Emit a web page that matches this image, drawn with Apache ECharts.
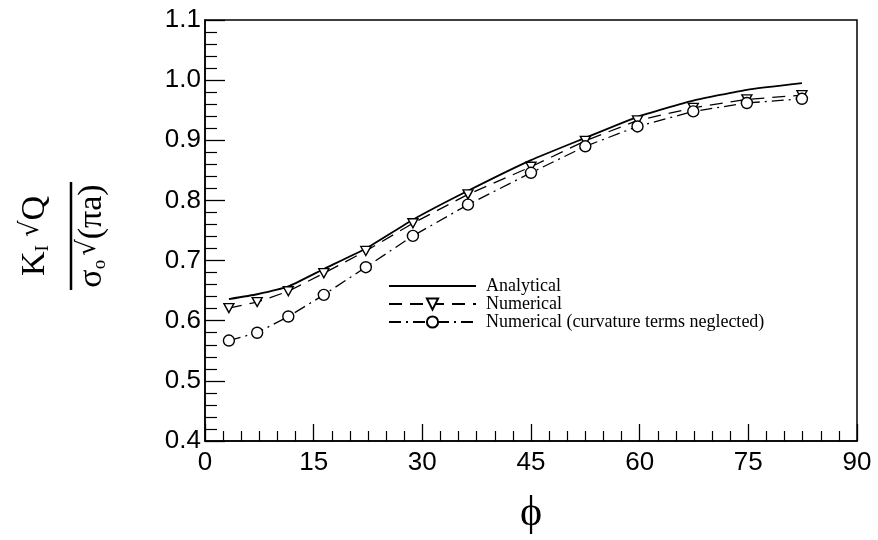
<!DOCTYPE html>
<html>
<head>
<meta charset="utf-8">
<script src="https://cdn.jsdelivr.net/npm/echarts@6/dist/echarts.min.js"></script>
<style>
html,body{margin:0;padding:0;background:#fff;}
#chart{width:878px;height:540px;}
</style>
</head>
<body>
<div id="chart"></div>
<script>
// Data
var phi = [3.3, 7.2, 11.5, 16.4, 22.2, 28.7, 36.3, 45.0, 52.5, 59.7, 67.4, 74.8, 82.4];
var analytical = [0.636, 0.644, 0.657, 0.686, 0.720, 0.768, 0.816, 0.867, 0.904, 0.939, 0.966, 0.984, 0.995];
var numerical = [0.621, 0.631, 0.649, 0.679, 0.716, 0.762, 0.810, 0.856, 0.899, 0.933, 0.954, 0.968, 0.975];
var neglected = [0.567, 0.580, 0.607, 0.643, 0.689, 0.741, 0.793, 0.846, 0.890, 0.923, 0.948, 0.962, 0.969];
var seriesNames = ['Analytical', 'Numerical', 'Numerical (curvature terms neglected)'];
var xTitle = 'ϕ';

function pairs(ys) { return phi.map(function (p, i) { return [p, ys[i]]; }); }

var chart = echarts.init(document.getElementById('chart'), null, {renderer: 'canvas'});
var axisFont = {fontFamily: 'Liberation Sans', fontSize: 26, color: '#000'};
var option = {
  animation: false,
  backgroundColor: '#fff',
  grid: {left: 205, right: 21, top: 20, bottom: 93, show: true, borderColor: '#000', borderWidth: 1.5, backgroundColor: 'transparent'},
  xAxis: {
    type: 'value', min: 0, max: 90, interval: 15,
    axisLine: {lineStyle: {color: '#000', width: 1.5}},
    axisTick: {inside: true, length: 17, lineStyle: {color: '#000', width: 1.3}},
    minorTick: {show: true, splitNumber: 6, length: 10, lineStyle: {color: '#000', width: 1.2}},
    splitLine: {show: false},
    axisLabel: Object.assign({margin: 9}, axisFont),
    name: xTitle, nameLocation: 'middle', nameGap: 52,
    nameTextStyle: {fontFamily: 'Liberation Serif', fontSize: 42, color: '#000'}
  },
  yAxis: {
    type: 'value', min: 0.4, max: 1.1, interval: 0.1,
    axisLine: {lineStyle: {color: '#000', width: 1.5}},
    axisTick: {inside: true, length: 20, lineStyle: {color: '#000', width: 1.3}},
    minorTick: {show: true, splitNumber: 5, length: 12, lineStyle: {color: '#000', width: 1.2}},
    splitLine: {show: false},
    axisLabel: Object.assign({margin: 4, formatter: function (v) { return v.toFixed(1); }}, axisFont)
  },
  legend: {
    left: 383, top: 272, orient: 'vertical', itemWidth: 87, itemHeight: 14, itemGap: 0,
    textStyle: {fontFamily: 'Liberation Serif', fontSize: 18, color: '#000', padding: [0, 0, 0, 5]},
    data: [{name: seriesNames[0], itemStyle: {opacity: 0}}, {name: seriesNames[1]}, {name: seriesNames[2]}]
  },
  series: [
    {
      name: seriesNames[0], type: 'line', data: pairs(analytical), smooth: 0.15,
      showSymbol: false, symbol: 'none',
      lineStyle: {color: '#000', width: 1.8, type: 'solid'}, itemStyle: {color: '#000'}
    },
    {
      name: seriesNames[1], type: 'line', data: pairs(numerical),
      symbol: 'triangle', symbolRotate: 180, symbolSize: [10, 9],
      lineStyle: {color: '#000', width: 1.3, type: [13, 8]},
      itemStyle: {color: '#fff', borderColor: '#000', borderWidth: 1.4}
    },
    {
      name: seriesNames[2], type: 'line', data: pairs(neglected),
      symbol: 'circle', symbolSize: 11,
      lineStyle: {color: '#000', width: 1.3, type: [12, 5, 2, 5]},
      itemStyle: {color: '#fff', borderColor: '#000', borderWidth: 1.4}
    }
  ],
  graphic: [
    {
      type: 'group', x: 71, y: 236, rotation: Math.PI / 2,
      children: [
        {type: 'text', x: 0, y: -18, style: {
          text: '{m|K}{s|I}{r|√}{m|Q}', align: 'center', verticalAlign: 'bottom',
          rich: {
            m: {fontFamily: 'Liberation Serif', fontSize: 34, fill: '#000'},
            s: {fontFamily: 'Liberation Serif', fontSize: 19, fill: '#000', padding: [16, 8, 0, 0]},
            r: {fontFamily: 'DejaVu Sans', fontSize: 26, fill: '#000', padding: [0, 0, 8, 0]}
          }
        }},
        {type: 'line', shape: {x1: -54, y1: 0, x2: 54, y2: 0}, style: {stroke: '#000', lineWidth: 2.5}},
        {type: 'text', x: 0, y: 4, style: {
          text: '{m|σ}{s|o}{r|√}{m|(πa)}', align: 'center', verticalAlign: 'top',
          rich: {
            m: {fontFamily: 'Liberation Serif', fontSize: 34, fill: '#000'},
            s: {fontFamily: 'Liberation Serif', fontSize: 19, fill: '#000', padding: [16, 4, 0, 0]},
            r: {fontFamily: 'DejaVu Sans', fontSize: 26, fill: '#000', padding: [0, 0, 8, 0]}
          }
        }}
      ]
    }
  ]
};
chart.setOption(option);
</script>
</body>
</html>
